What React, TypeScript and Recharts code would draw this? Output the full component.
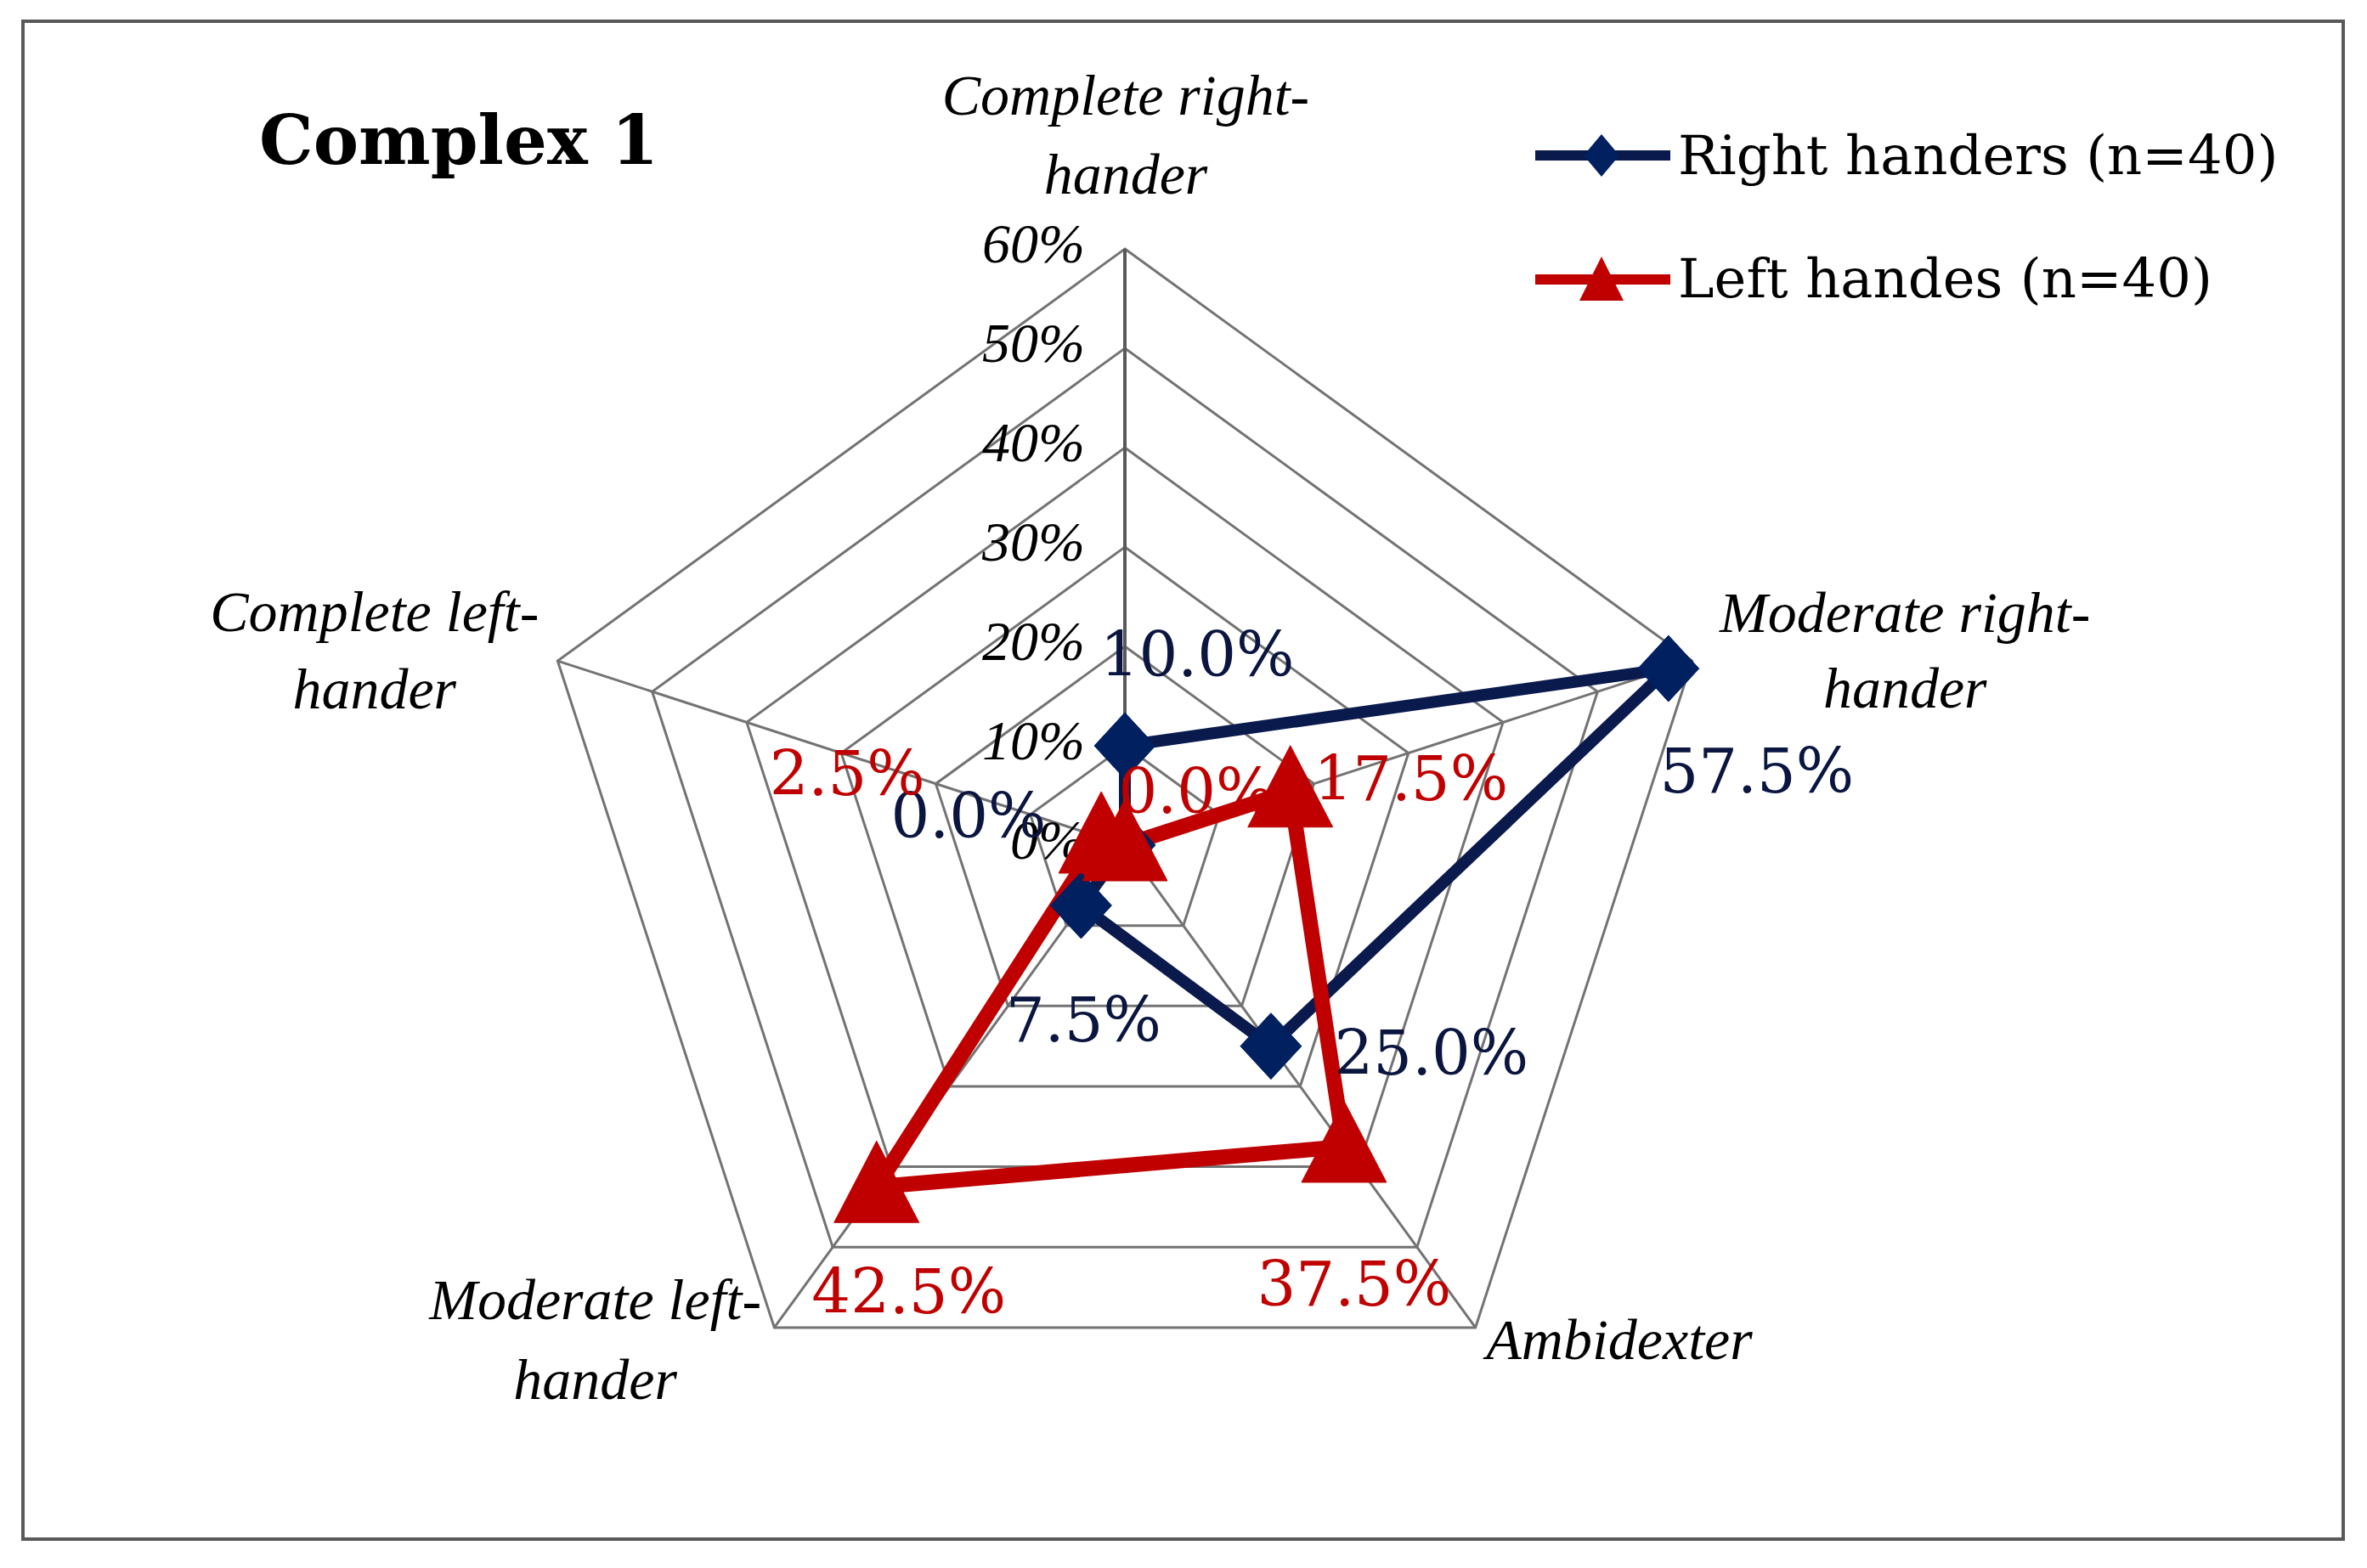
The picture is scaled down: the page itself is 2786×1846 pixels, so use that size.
import React from 'react';
import { RadarChart, Radar, PolarGrid, PolarAngleAxis, PolarRadiusAxis, Legend } from 'recharts';

const title = 'Complex 1';
const categories = ['Complete right-hander', 'Moderate right-hander', 'Ambidexter', 'Moderate left-hander', 'Complete left-hander'];
const seriesNames = ['Right handers (n=40)', 'Left handes (n=40)'];
const rightHanders = [10.0, 57.5, 25.0, 7.5, 0.0];
const leftHanders = [0.0, 17.5, 37.5, 42.5, 2.5];
const radiusTicks = [0, 10, 20, 30, 40, 50, 60];

const data = categories.map((c, i) => ({ category: c, right: rightHanders[i], left: leftHanders[i] }));

const NAVY_LINE = '#0a1a4c';
const NAVY_FILL = '#002060';
const RED = '#c00000';
const GRID = '#737373';
const LABEL_FONT = '"DejaVu Serif", serif';
const ITALIC_FONT = '"Liberation Serif", serif';

// label layout (offsets from the library's tick position)
const angleLabelLayout = [
  { anchor: 'middle', dx: 1, dy: [-150, -57] },
  { anchor: 'middle', dx: 243, dy: [-32, 57] },
  { anchor: 'start', dx: 8, dy: [31] },
  { anchor: 'middle', dx: -206, dy: [-16, 78] },
  { anchor: 'middle', dx: -208, dy: [-33, 58] },
];
const rightLabelOffsets = [
  [85, -82], [104, 146], [189, 33], [3, 160], [-184, -9],
];
const leftLabelOffsets = [
  [84, -38], [142, 10], [12, 187], [38, 149], [-299, -50],
];

const fmt = (v: number) => v.toFixed(1) + '%';

const AngleTick = (props: any) => {
  const { x, y, payload } = props;
  const idx = payload && payload.index != null ? payload.index : props.index;
  const layout = angleLabelLayout[idx] || angleLabelLayout[0];
  const lines = String(payload.value).split(/(?<=-)/);
  return (
    <g>
      {lines.map((ln, i) => (
        <text
          key={i}
          x={x + layout.dx}
          y={y + layout.dy[i]}
          textAnchor={layout.anchor}
          fontFamily={ITALIC_FONT}
          fontStyle="italic"
          fontSize={68}
          fill="#000"
        >
          {ln}
        </text>
      ))}
    </g>
  );
};

const RadiusTick = (props: any) => {
  const { x, y, payload } = props;
  return (
    <text
      x={x - 47}
      y={y + 16}
      textAnchor="end"
      fontFamily={ITALIC_FONT}
      fontStyle="italic"
      fontSize={66}
      fill="#000"
    >
      {Math.round(payload.value) + '%'}
    </text>
  );
};

const DiamondDot = (props: any) => {
  const { cx, cy, index } = props;
  const v = rightHanders[index];
  const [dx, dy] = rightLabelOffsets[index];
  return (
    <g key={`rd-${index}`}>
      <polygon
        points={`${cx},${cy - 39} ${cx + 36},${cy} ${cx},${cy + 39} ${cx - 36},${cy}`}
        fill={NAVY_FILL}
        stroke={NAVY_FILL}
        strokeWidth={1}
      />
      <text x={cx + dx} y={cy + dy} textAnchor="middle" fontFamily={LABEL_FONT} fontSize={72} fill="#0a1540">
        {fmt(v)}
      </text>
    </g>
  );
};

const TriangleDot = (props: any) => {
  const { cx, cy, index } = props;
  const v = leftHanders[index];
  const [dx, dy] = leftLabelOffsets[index];
  return (
    <g key={`ld-${index}`}>
      <polygon
        points={`${cx},${cy - 54} ${cx + 50},${cy + 42} ${cx - 50},${cy + 42}`}
        fill={RED}
        stroke={RED}
        strokeWidth={1}
      />
      <text x={cx + dx} y={cy + dy} textAnchor="middle" fontFamily={LABEL_FONT} fontSize={72} fill={RED}>
        {fmt(v)}
      </text>
    </g>
  );
};

const LegendContent = () => (
  <svg width={960} height={260} style={{ display: 'block', overflow: 'visible' }}>
    <line x1={17} y1={63} x2={176} y2={63} stroke={NAVY_LINE} strokeWidth={12} />
    <polygon points="95,38 116,63 95,88 74,63" fill={NAVY_FILL} />
    <text x={185} y={85} fontFamily={LABEL_FONT} fontSize={64} fill="#000">
      {seriesNames[0]}
    </text>
    <line x1={17} y1={209} x2={176} y2={209} stroke={RED} strokeWidth={12} />
    <polygon points="95,182 121,234 69,234" fill={RED} />
    <text x={185} y={230} fontFamily={LABEL_FONT} fontSize={64} fill="#000">
      {seriesNames[1]}
    </text>
  </svg>
);

export default function App() {
  return (
    <div style={{ position: 'absolute', left: 0, top: 0, width: 2786, height: 1846, background: '#fff' }}>
      <RadarChart
        width={2786}
        height={1846}
        data={data}
        cx={1324}
        cy={995}
        outerRadius={702}
        startAngle={90}
        endAngle={-270}
        margin={{ top: 0, right: 0, bottom: 0, left: 0 }}
      >
        <rect x={27} y={25} width={2731} height={1787} fill="none" stroke="#595959" strokeWidth={4} />
        <text x={305} y={193} fontFamily={LABEL_FONT} fontWeight="bold" fontSize={80} fill="#000">
          {title}
        </text>
        <PolarGrid gridType="polygon" stroke={GRID} strokeWidth={3} />
        <PolarAngleAxis dataKey="category" tick={AngleTick} tickLine={false} axisLine={false} />
        <PolarRadiusAxis
          angle={90}
          type="number"
          scale="linear"
          domain={[0, 60]}
          ticks={radiusTicks}
          tickCount={7}
          allowDataOverflow
          tick={RadiusTick}
          tickLine={false}
          axisLine={{ stroke: '#595959', strokeWidth: 4 }}
        />
        <Radar
          name={seriesNames[0]}
          dataKey="right"
          stroke={NAVY_LINE}
          strokeWidth={14}
          strokeLinejoin="round"
          fill="none"
          fillOpacity={0}
          dot={DiamondDot}
          isAnimationActive={false}
        />
        <Radar
          name={seriesNames[1]}
          dataKey="left"
          stroke={RED}
          strokeWidth={18}
          strokeLinejoin="round"
          fill="none"
          fillOpacity={0}
          dot={TriangleDot}
          isAnimationActive={false}
        />
        <Legend
          content={LegendContent}
          wrapperStyle={{ left: 1790, top: 120, bottom: 'auto', width: 960, height: 260 }}
        />
      </RadarChart>
    </div>
  );
}
